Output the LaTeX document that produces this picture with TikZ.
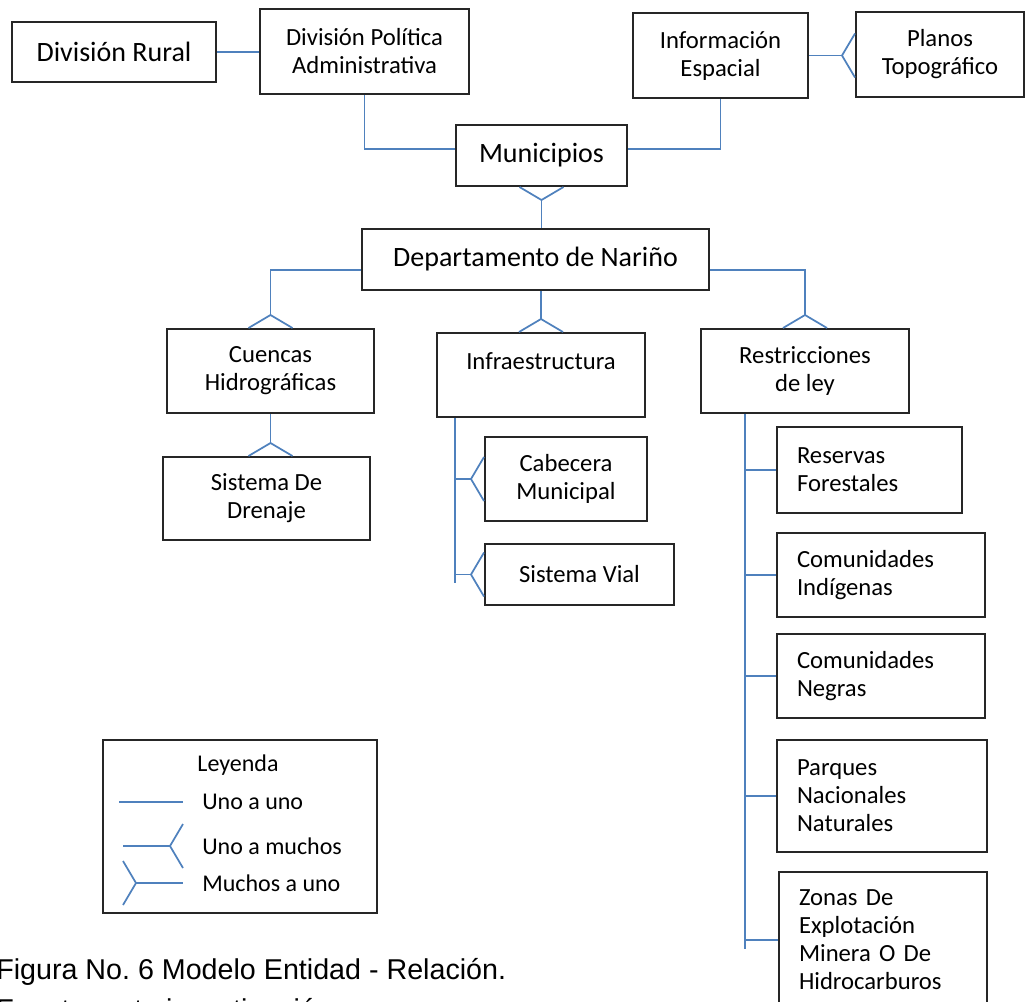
\documentclass[tikz,border=0pt]{standalone}
\usepackage{fontspec}
\setmainfont{Carlito}
\newfontfamily\capfont{Liberation Sans}
\usetikzlibrary{calc}
\definecolor{relblue}{RGB}{79,129,189}
\tikzset{
  ent/.style={ % entity box
    draw=black!85, line width=1.5pt, rectangle, align=center,
    inner sep=0pt, text=black, font=\fontsize{18.5}{21}\selectfont
  },
  big/.style={font=\fontsize{21}{25}\selectfont},
  lbox/.style={ % box with left aligned text
    ent, align=left, inner ysep=0pt, inner xsep=15pt
  },
  rel/.style={draw=relblue, line width=1.3pt},
  txt/.style={inner sep=0pt, text=black, font=\fontsize{18}{21}\selectfont},
  captxt/.style={inner sep=0pt, text=black, font=\capfont\fontsize{21.5}{25}\selectfont},
  crow/.pic={ % one to many end
    \draw[rel] (0,-22) -- (-13,0) -- (0,22);
  }
}
\begin{document}
\begin{tikzpicture}[x=0.75pt, y=-0.75pt]
    \useasboundingbox (0,0) rectangle (1027,1001);

    % top row
    \node[ent, big, minimum width=153pt, minimum height=45pt] (rural) at (114,52) {División Rural};
    \node[ent, minimum width=156.75pt, minimum height=63.75pt] (dpa) at (364.5,51.5) {División Política\\Administrativa};
    \node[ent, big, minimum width=128.25pt, minimum height=45.75pt] (muni) at (541.5,155.5) {Municipios};
    \node[ent, minimum width=131.25pt, minimum height=63.75pt] (info) at (720.5,55.5) {Información\\Espacial};
    \node[ent, minimum width=126pt, minimum height=63.75pt] (planos) at (940,54.5) {Planos\\Topográfico};
    \node[ent, big, minimum width=260.25pt, minimum height=45.75pt] (depto) at (535.5,259.5) {Departamento de Nariño};

    % second level
    \node[ent, minimum width=155.25pt, minimum height=63pt] (cuencas) at (270.5,371) {Cuencas\\Hidrográficas};
    \node[ent, minimum width=156pt, minimum height=63pt] (infra) at (541,375) {Infraestructura\\~};
    \node[ent, minimum width=156pt, minimum height=63pt] (restr) at (805,371) {Restricciones\\de ley};
    \node[ent, minimum width=155.25pt, minimum height=62.25pt] (drenaje) at (266.5,498.5) {Sistema De\\Drenaje};
    \node[ent, minimum width=121.5pt, minimum height=63pt] (cabecera) at (566,479) {Cabecera\\Municipal};
    \node[ent, minimum width=141.75pt, minimum height=45.75pt] (vial) at (579.5,574.5) {Sistema Vial};

    % restricciones
    \node[lbox, text width=108.75pt, minimum height=64.5pt] (reservas) at (869.5,470) {Reservas\\Forestales};
    \node[lbox, text width=126pt, minimum height=63pt] (indig) at (881,575) {Comunidades\\Indígenas};
    \node[lbox, text width=126pt, minimum height=63pt] (negras) at (881,676) {Comunidades\\Negras};
    \node[lbox, text width=127.5pt, minimum height=84pt] (parques) at (882,796) {Parques\\Nacionales\\Naturales};
    \node[lbox, text width=126pt, minimum height=102pt] (zonas) at (883,940) {Zonas De\\Explotación\\Minera O De\\Hidrocarburos};

    % relations
    \draw[rel] (rural.east) -- (rural.east -| dpa.west);
    \draw[rel] (dpa.south) |- ([yshift=5pt]muni.west);
    \draw[rel] ([yshift=5pt]muni.east) -| (info.south);
    \draw[rel] (info.east) -- ($(info.east -| planos.west)+(-13,0)$);
    \pic at (info.east -| planos.west) {crow};

    \pic[rotate=90] at (muni.south) {crow};
    \draw[rel] ($(muni.south)+(0,13)$) -- (muni.south |- depto.north);

    \draw[rel] ([yshift=-8pt]depto.west) -| ($(cuencas.north)+(0,-13)$);
    \pic[rotate=-90] at (cuencas.north) {crow};
    \draw[rel] ([yshift=-8pt]depto.east) -| ($(restr.north)+(0,-13)$);
    \pic[rotate=-90] at (restr.north) {crow};
    \draw[rel] (infra.north |- depto.south) -- ($(infra.north)+(0,-13)$);
    \pic[rotate=-90] at (infra.north) {crow};

    \draw[rel] (cuencas.south) -- ($(cuencas.south |- drenaje.north)+(0,-13)$);
    \pic[rotate=-90] at (cuencas.south |- drenaje.north) {crow};

    \coordinate (ibus) at ($(infra.south west)+(19,0)$);
    \coordinate (iend) at ($(vial.west)+(0,8)$);
    \draw[rel] (ibus) -- (ibus |- iend);
    \draw[rel] (ibus |- cabecera.west) -- ($(cabecera.west)+(-13,0)$);
    \pic at (cabecera.west) {crow};
    \draw[rel] (ibus |- vial.west) -- ($(vial.west)+(-13,0)$);
    \pic at (vial.west) {crow};

    \coordinate (rbus) at ($(restr.south west)+(45,0)$);
    \coordinate (rend) at ($(zonas.west)+(0,9)$);
    \draw[rel] (rbus) -- (rbus |- rend);
    \foreach \n in {reservas,indig,negras,parques,zonas}
      \draw[rel] (rbus |- \n.west) -- (\n.west);

    % legend
    \node[ent, minimum width=205.5pt, minimum height=129.75pt] (leg) at (240,826.5) {};
    \node[txt] (legt) at (238,765) {Leyenda};
    \node[txt, anchor=west] (l1) at (202,802) {Uno a uno};
    \node[txt, anchor=west] (l2) at (202,846) {Uno a muchos};
    \node[txt, anchor=west] (l3) at (202,883) {Muchos a uno};
    \draw[rel] ($(l1.west)+(-83,0)$) -- ($(l1.west)+(-19,0)$);
    \draw[rel] ($(l2.west)+(-79,0)$) -- ($(l2.west)+(-32,0)$);
    \pic at ($(l2.west)+(-19,0)$) {crow};
    \pic[rotate=180] at ($(l3.west)+(-79,0)$) {crow};
    \draw[rel] ($(l3.west)+(-66,0)$) -- ($(l3.west)+(-19,0)$);

    % caption
    \node[captxt, anchor=base west] (fig) at (-4,979) {Figura No.\ 6 Modelo Entidad - Relación.};
    \node[captxt, anchor=base west] (src) at (-4,1019) {Fuente: esta investigación.};
\end{tikzpicture}
\end{document}
